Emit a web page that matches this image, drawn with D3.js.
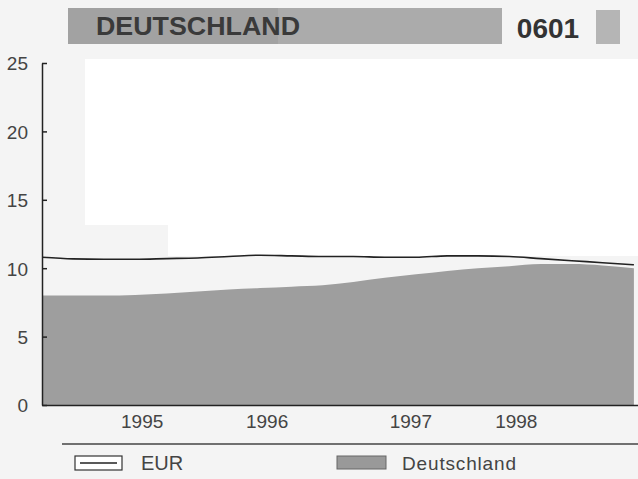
<!DOCTYPE html>
<head>
  <meta charset="utf-8">
  <script src="https://d3js.org/d3.v7.min.js"></script>
  <style>
    body { margin: 0; background: #f4f4f4; }
    text { font-family: "Liberation Sans", Arial, sans-serif; }
    .axis path, .axis line { stroke: #222; stroke-width: 1.5px; }
    .axis text { fill: #444; font-size: 19px; }
  </style>
</head>

<body>
  <script>
    var width = 638;
    var height = 479;

    // quarterly readings
    var months = ["1994-09", "1994-12", "1995-03", "1995-06", "1995-09", "1995-12",
                  "1996-03", "1996-06", "1996-09", "1996-12", "1997-03", "1997-06",
                  "1997-09", "1997-12", "1998-03", "1998-06", "1998-09", "1998-12",
                  "1999-03", "1999-06"];
    var deutschland = [8.0, 8.0, 8.0, 8.05, 8.15, 8.3, 8.45, 8.55, 8.65, 8.75,
                       9.0, 9.3, 9.55, 9.8, 10.0, 10.15, 10.3, 10.3, 10.2, 10.0];
    var eur = [10.8, 10.68, 10.65, 10.65, 10.7, 10.75, 10.85, 10.95, 10.9, 10.85,
               10.85, 10.8, 10.8, 10.9, 10.9, 10.85, 10.7, 10.55, 10.4, 10.25];
    var yTicks = [0, 5, 10, 15, 20, 25];
    var yearLabels = ["1995", "1996", "1997", "1998"];
    var yearLabelDates = ["1995-06-20", "1996-06-20", "1997-08-15", "1998-06-20"];

    var parseMonth = d3.timeParse("%Y-%m");
    var parseDay = d3.timeParse("%Y-%m-%d");

    var svg = d3.select("body").append("svg")
        .attr("width", width)
        .attr("height", height);

    // scan background: white patch behind the upper plot
    svg.append("rect").attr("x", 85).attr("y", 59).attr("width", 553).attr("height", 166).attr("fill", "#fff");
    svg.append("rect").attr("x", 168).attr("y", 224).attr("width", 470).attr("height", 32).attr("fill", "#fff");

    // title bar
    svg.append("rect").attr("x", 68).attr("y", 8).attr("width", 434).attr("height", 36).attr("fill", "#ababab");
    svg.append("rect").attr("x", 68).attr("y", 8).attr("width", 210).attr("height", 36).attr("fill", "#a2a2a2");
    svg.append("text").attr("x", 96).attr("y", 35)
        .attr("font-size", 25).attr("font-weight", "bold").attr("fill", "#3a3a3a")
        .attr("textLength", 204).attr("lengthAdjust", "spacingAndGlyphs")
        .text("DEUTSCHLAND");
    svg.append("text").attr("x", 548).attr("y", 38).attr("text-anchor", "middle")
        .attr("font-size", 28).attr("font-weight", "bold").attr("fill", "#333")
        .text("0601");
    svg.append("rect").attr("x", 596).attr("y", 10).attr("width", 24).attr("height", 34).attr("fill", "#b5b5b5");

    var x = d3.scaleTime()
        .domain([parseMonth("1994-09"), parseDay("1999-06-13")])
        .range([42, 638]);
    var y = d3.scaleLinear()
        .domain([0, 25])
        .range([405, 63]);

    var pts = months.map(function (m, i) {
      return { date: parseMonth(m), de: deutschland[i], eur: eur[i] };
    });

    svg.append("path")
        .datum(pts)
        .attr("fill", "#9e9e9e")
        .attr("d", d3.area()
          .curve(d3.curveMonotoneX)
          .x(function (d) { return x(d.date); })
          .y0(y(0))
          .y1(function (d) { return y(d.de); }));

    svg.append("path")
        .datum(pts)
        .attr("fill", "none")
        .attr("stroke", "#222")
        .attr("stroke-width", 1.6)
        .attr("d", d3.line()
          .curve(d3.curveMonotoneX)
          .x(function (d) { return x(d.date); })
          .y(function (d) { return y(d.eur); }));

    svg.append("g")
        .attr("class", "axis")
        .attr("transform", "translate(42,0)")
        .call(d3.axisLeft(y).tickValues(yTicks).tickSizeInner(-5).tickSizeOuter(0).tickPadding(14))
        .call(function (g) { g.selectAll("text").attr("dy", "0.36em"); });

    svg.append("g")
        .attr("class", "axis")
        .attr("transform", "translate(0,405)")
        .call(d3.axisBottom(x)
          .tickValues(yearLabelDates.map(parseDay))
          .tickFormat(function (d, i) { return yearLabels[i]; })
          .tickSize(0).tickPadding(10))
        .call(function (g) { g.selectAll("text").attr("fill", "#333"); });

    svg.append("line").attr("x1", 62).attr("x2", 638).attr("y1", 444).attr("y2", 444)
        .attr("stroke", "#444").attr("stroke-width", 1.5);

    // legend
    var legend = svg.append("g");
    legend.append("rect").attr("x", 75).attr("y", 456).attr("width", 47).attr("height", 14)
        .attr("fill", "#fff").attr("stroke", "#333").attr("stroke-width", 1.2);
    legend.append("line").attr("x1", 80).attr("x2", 117).attr("y1", 463).attr("y2", 463)
        .attr("stroke", "#222").attr("stroke-width", 1.4);
    legend.append("text").attr("x", 141).attr("y", 470).attr("font-size", 20).attr("fill", "#444")
        .text("EUR");
    legend.append("rect").attr("x", 337).attr("y", 456).attr("width", 49).attr("height", 13)
        .attr("fill", "#999").attr("stroke", "#666").attr("stroke-width", 1);
    legend.append("text").attr("x", 402).attr("y", 470).attr("font-size", 19).attr("fill", "#444")
        .attr("textLength", 114).text("Deutschland");
  </script>
</body>
